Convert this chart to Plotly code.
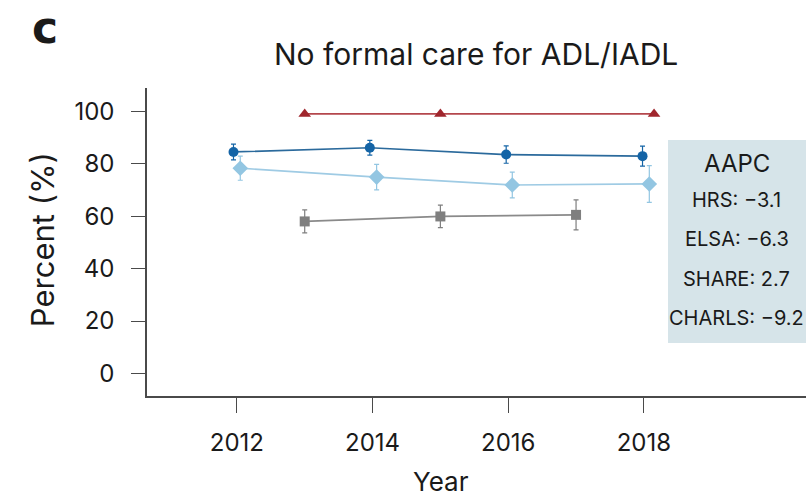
import plotly.graph_objects as go

# Share of people with ADL/IADL limitations receiving no formal care, by survey wave
hrs_years = [2012, 2014, 2016, 2018]
hrs_pct = [84.5, 86.1, 83.5, 82.9]
hrs_err = [3.0, 2.8, 3.3, 3.8]

elsa_years = [2012, 2014, 2016, 2018]
elsa_pct = [78.3, 74.9, 71.9, 72.3]
elsa_err = [4.6, 4.9, 4.9, 7.0]

share_years = [2013, 2015, 2017]
share_pct = [58.0, 59.9, 60.5]
share_err = [4.4, 4.3, 5.7]

charls_years = [2013, 2015, 2018]
charls_pct = [99.0, 99.0, 99.0]
charls_err = [0.3, 0.3, 0.3]

aapc_labels = ["HRS", "ELSA", "SHARE", "CHARLS"]
aapc_values = ["\u22123.1", "\u22126.3", "2.7", "\u22129.2"]

x_ticks = [2012, 2014, 2016, 2018]
y_ticks = [0, 20, 40, 60, 80, 100]

# small horizontal dodge so overlapping waves stay readable
dodge = {"HRS": [-0.05, -0.04, -0.03, -0.02],
         "ELSA": [0.05, 0.06, 0.06, 0.08],
         "SHARE": [0.0, 0.0, 0.0],
         "CHARLS": [0.0, 0.0, 0.15]}

FONT = "Inter"
TEXT = "#1a1a1a"
AXIS_COLOR = "#4a4a4a"

fig = go.Figure()


def add_series(name, years, pct, err, marker_color, line_color, symbol, size):
    xs = [y + d for y, d in zip(years, dodge[name])]
    fig.add_trace(go.Scatter(
        x=xs, y=pct, name=name, mode="lines+markers",
        line=dict(color=line_color, width=1.7),
        marker=dict(color=marker_color, symbol=symbol, size=size,
                    line=dict(width=0)),
        error_y=dict(type="data", array=err, visible=True,
                     color=marker_color, thickness=1.2, width=2.5),
        showlegend=False,
    ))


add_series("SHARE", share_years, share_pct, share_err, "#7f7f7f", "#8a8a8a", "square", 10)
add_series("ELSA", elsa_years, elsa_pct, elsa_err, "#93c6e2", "#9fcbe4", "diamond", 12)
add_series("HRS", hrs_years, hrs_pct, hrs_err, "#1464a6", "#2b6a9c", "circle", 10)
add_series("CHARLS", charls_years, charls_pct, charls_err, "#a0262d", "#b4474c", "triangle-up", 11)


def label(text, x, y, size, family=FONT, angle=0):
    fig.add_annotation(text=text, xref="paper", yref="paper", x=x, y=y,
                       xanchor="center", yanchor="middle", showarrow=False,
                       textangle=angle, font=dict(family=family, size=size, color=TEXT))


# AAPC summary panel
fig.add_shape(type="rect", xref="paper", yref="paper",
              x0=0.7906, x1=1.0, y0=0.172, y1=0.831,
              fillcolor="#d6e4e9", line=dict(width=0), layer="below")
label("AAPC", 0.895, 0.756, 24)
for i, (lab, val) in enumerate(zip(aapc_labels, aapc_values)):
    label(f"{lab}: {val}", 0.895, 0.636 - i * 0.1275, 20)

# titles
label("No formal care for ADL/IADL", 0.499, 1.111, 30)
label("<b>c</b>", -0.155, 1.195, 44, family="DejaVu Sans")
label("Year", 0.446, -0.279, 26)
label("Percent (%)", -0.1593, 0.506, 31, angle=-90)

fig.update_layout(
    width=808, height=500,
    margin=dict(l=147, r=2, t=88, b=104),
    paper_bgcolor="white", plot_bgcolor="white",
    font=dict(family=FONT, color=TEXT),
)
fig.update_xaxes(
    range=[2010.675, 2020.39], tickvals=x_ticks, ticktext=[str(t) for t in x_ticks],
    showgrid=False, zeroline=False, showline=True, linecolor=AXIS_COLOR, linewidth=1.5,
    ticks="outside", ticklen=15, tickwidth=1.3, tickcolor=AXIS_COLOR,
    tickfont=dict(family=FONT, size=24, color=TEXT), ticklabelstandoff=9,
)
fig.update_yaxes(
    range=[-8.6, 108.9], tickvals=y_ticks, ticktext=[str(t) for t in y_ticks],
    showgrid=False, zeroline=False, showline=True, linecolor=AXIS_COLOR, linewidth=1.5,
    ticks="outside", ticklen=14, tickwidth=1.3, tickcolor=AXIS_COLOR,
    tickfont=dict(family=FONT, size=24, color=TEXT), ticklabelstandoff=12,
)

fig.write_html("out.html")
